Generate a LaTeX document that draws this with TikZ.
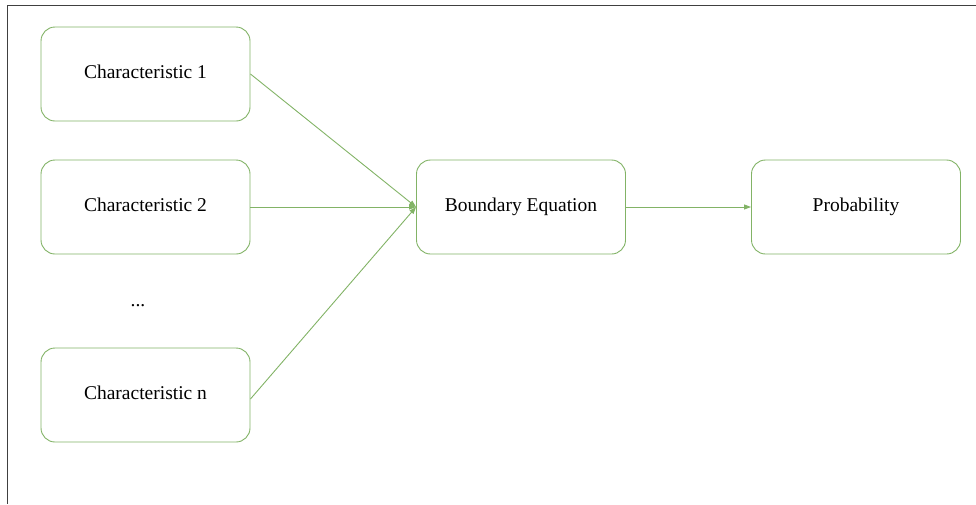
\documentclass[tikz,border=0pt]{standalone}
\usepackage{fontspec}
\setmainfont{Liberation Serif}
\usetikzlibrary{arrows.meta}
\definecolor{boxgreen}{HTML}{82B366}
\tikzset{
  label text/.style={font=\fontsize{19.5}{22}\selectfont, text height=0.88em, text depth=0pt},
  card/.style={draw=boxgreen, line width=0.9pt, rounded corners=14pt, fill=white,
    minimum width=209pt, minimum height=94pt, inner sep=0pt, label text},
  link/.style={draw=boxgreen, line width=0.9pt, -{Triangle[length=7pt,width=5pt]}},
}
\begin{document}
\begin{tikzpicture}[x=1pt, y=-1pt]
  \useasboundingbox (0,0) rectangle (976,504);
  % page frame
  \coordinate (frameTR) at (976,5);
  \coordinate (frameTL) at (7,5);
  \coordinate (frameBL) at (7,504);
  \draw[black!75, line width=1pt] (frameTR) -- (frameTL) -- (frameBL);

  \node[card] (c1) at (145.5,74) {Characteristic 1};
  \node[card] (c2) at (145.5,207) {Characteristic 2};
  \node[label text, inner sep=0pt] (dots) at (138,302) {...};
  \node[card] (cn) at (145.5,395) {Characteristic n};
  \node[card] (be) at (521,207) {Boundary Equation};
  \node[card] (pr) at (856,207) {Probability};

  \draw[link] (c1.east) -- (be.west);
  \draw[link] (c2.east) -- (be.west);
  \draw[link] ([yshift=-4pt]cn.east) -- (be.west);
  \draw[link] (be.east) -- (pr.west);
\end{tikzpicture}
\end{document}
